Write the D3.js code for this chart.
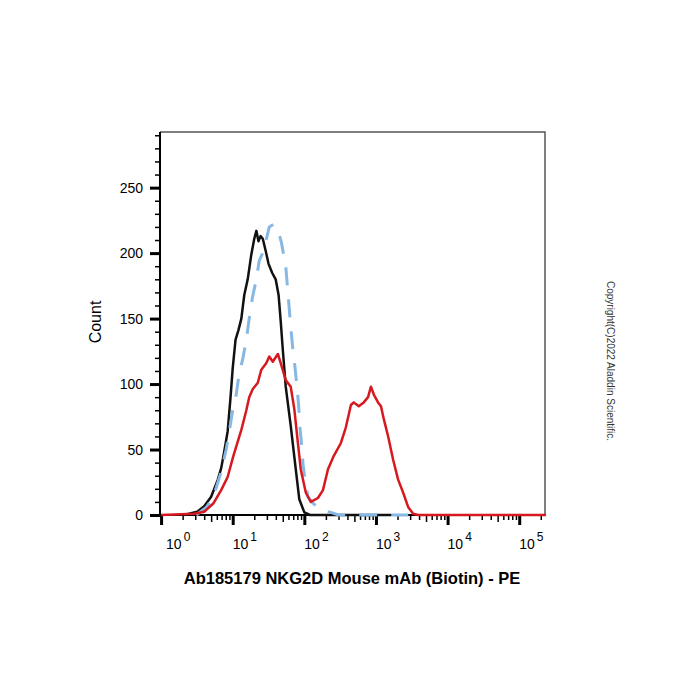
<!DOCTYPE html>
<html>
<head>
<meta charset="utf-8">
<script src="https://cdn.jsdelivr.net/npm/d3@7"></script>
<style>
  body { margin: 0; background: #fff; }
  svg { display: block; font-family: Arial, "Liberation Sans", sans-serif; }
</style>
</head>
<body>
<div id="chart"></div>
<script>
// isotype / unstained control (black)
const blackX = [2.1, 3.2, 4.0, 5.0, 6.2, 6.92, 7.59, 8.51, 9.33, 10, 10.96, 12.0, 13.2, 14.5, 16.2, 18.2, 20, 21.4, 22.9, 24.5, 26.3, 28.8, 31.6, 35.5, 39.8, 43.7, 46.8, 50.1, 55, 64.6, 75.9, 85.1, 100, 120, 1620];
const blackY = [0, 2.5, 6.7, 14, 27, 36, 48, 64, 90, 112, 134, 141, 150, 168, 180, 199, 211, 217, 209, 213, 211, 202, 192, 185, 180, 168, 148, 126, 98, 68, 35, 12, 2, 0, 0];

// second control (blue dashed)
const blueX = [3.1, 4.3, 5.0, 5.9, 6.9, 8.1, 8.9, 10, 11.2, 12.3, 13.8, 15.5, 17, 19, 21.4, 23.4, 25.7, 28.2, 32.4, 37.2, 42.7, 47.9, 55, 61.7, 64.6, 69.2, 74.1, 79.4, 83.2, 87.1, 91.2, 95.5, 102, 112, 132, 170, 234, 302, 2820];
const blueY = [0, 6, 11, 21, 33, 50, 63, 80, 92, 108, 119, 134, 150, 167, 180, 194, 199, 206, 220, 222, 218, 208, 190, 157, 144, 126, 113, 96, 84, 66, 55, 40, 27, 14, 9, 4, 2, 0, 0];

// stained sample (red)
const redX = [1, 2.9, 4.0, 5.4, 6.9, 8.5, 10.2, 13.2, 15.5, 17, 19, 22.4, 25.1, 29.5, 32.4, 36.3, 42.7, 46.8, 55, 64.6, 72.4, 81.3, 89.1, 105, 123, 155, 182, 214, 257, 324, 380, 447, 490, 575, 676, 776, 851, 933, 1070, 1175, 1290, 1480, 1740, 2040, 2400, 2820, 3310, 3890, 236600];
const redY = [0, 1, 2.5, 9, 19, 29, 45, 65, 80, 90, 96, 101, 111, 116, 121, 117, 123, 116, 103, 98, 81, 55, 35, 17, 10, 13, 19, 35, 45, 55, 67, 84, 86, 83, 86, 90, 98, 92, 86, 83, 73, 60, 42, 27, 17, 6, 1, 0, 0];

const yMajor = [0, 50, 100, 150, 200, 250];
const xDecades = [0, 1, 2, 3, 4, 5];
const xTitle = "Ab185179 NKG2D Mouse mAb (Biotin) - PE";
const yTitle = "Count";
const copyright = "Copyright(C)2022 Aladdin Scientific.";

const W = 700, H = 700;
const plotL = 160, plotR = 545, plotT = 132, plotB = 515;

const svg = d3.select("#chart").append("svg")
    .attr("width", W)
    .attr("height", H);

const x = d3.scaleLog()
    .domain([Math.pow(10, -0.015), Math.pow(10, 5.36)])
    .range([plotL, plotR]);

const y = d3.scaleLinear()
    .domain([0, 292.5])
    .range([plotB, plotT]);

// frame: top and right in grey
svg.append("path")
    .attr("d", `M${plotL},${plotT} H${plotR} V${plotB}`)
    .attr("fill", "none")
    .attr("stroke", "#555")
    .attr("stroke-width", 1.5);

// y axis
const yMinorAxis = d3.axisLeft(y).tickValues(d3.range(0, 291, 10)).tickSize(5).tickFormat("");
const yMinor = svg.append("g").attr("transform", `translate(${plotL},0)`).call(yMinorAxis);
yMinor.select(".domain").remove();
yMinor.selectAll("line").attr("stroke", "#000").attr("stroke-width", 1.5);

const yAxis = d3.axisLeft(y).tickValues(yMajor).tickSize(10).tickPadding(7);
const gy = svg.append("g").attr("transform", `translate(${plotL},0)`).call(yAxis);
gy.select(".domain").remove();
gy.selectAll("line").attr("stroke", "#000").attr("stroke-width", 3);
gy.selectAll("text")
    .attr("font-size", 14)
    .attr("fill", "#000")
    .attr("font-family", "Arial, 'Liberation Sans', sans-serif");

// x axis ticks
const xAll = x.ticks();
const isMajor = v => Math.abs(Math.log10(v) - Math.round(Math.log10(v))) < 1e-6;
const xMinorVals = xAll.filter(v => !isMajor(v));
const xMajorVals = xDecades.map(d => Math.pow(10, d));

const xMinor = svg.append("g").attr("transform", `translate(0,${plotB})`)
    .call(d3.axisBottom(x).tickValues(xMinorVals).tickSize(5).tickFormat(""));
xMinor.select(".domain").remove();
xMinor.selectAll("line")
    .attr("stroke", "#000")
    .attr("stroke-width", 1.5)
    .attr("y2", d => Math.round(d / Math.pow(10, Math.floor(Math.log10(d) + 1e-9))) === 5 ? 7 : 5);

const gx = svg.append("g").attr("transform", `translate(0,${plotB})`)
    .call(d3.axisBottom(x).tickValues(xMajorVals).tickSize(10).tickFormat(""));
gx.select(".domain").remove();
gx.selectAll("line").attr("stroke", "#000").attr("stroke-width", 3);

// decade labels 10^n
const xLab = svg.append("g")
    .selectAll("text")
    .data(xDecades)
    .enter().append("text")
    .attr("x", (d, i) => x(Math.pow(10, d)) + (i === 0 ? 5 : 0))
    .attr("y", 549)
    .attr("font-size", 14)
    .attr("fill", "#000");
xLab.append("tspan").text("10");
xLab.append("tspan").attr("dx", 2).attr("dy", -8).attr("font-size", 12).text(d => d);

// axis lines
svg.append("path")
    .attr("d", `M${plotL},${plotT} V${plotB} H${plotR}`)
    .attr("fill", "none")
    .attr("stroke", "#000")
    .attr("stroke-width", 2);

// curves
const line = d3.line()
    .x(d => x(d[0]))
    .y(d => y(d[1]));

const series = [
    { xs: blackX, ys: blackY, color: "#111", width: 2.5, dash: null },
    { xs: blueX, ys: blueY, color: "#86b8e3", width: 3, dash: "18,14" },
    { xs: redX, ys: redY, color: "#d7191f", width: 2.5, dash: null }
];

svg.append("g")
    .selectAll("path")
    .data(series)
    .enter().append("path")
    .attr("d", s => line(s.xs.map((v, i) => [v, s.ys[i]])))
    .attr("fill", "none")
    .attr("stroke", s => s.color)
    .attr("stroke-width", s => s.width)
    .attr("stroke-linejoin", "round")
    .attr("stroke-dasharray", s => s.dash);

// titles
svg.append("text")
    .attr("x", 352)
    .attr("y", 584)
    .attr("text-anchor", "middle")
    .attr("font-size", 16.5)
    .attr("font-weight", "bold")
    .attr("fill", "#000")
    .text(xTitle);

svg.append("text")
    .attr("transform", "translate(101,322) rotate(-90)")
    .attr("text-anchor", "middle")
    .attr("font-size", 16)
    .attr("fill", "#000")
    .text(yTitle);

svg.append("text")
    .attr("transform", "translate(607,361) rotate(90)")
    .attr("text-anchor", "middle")
    .attr("font-size", 10)
    .attr("fill", "#333")
    .text(copyright);
</script>
</body>
</html>
